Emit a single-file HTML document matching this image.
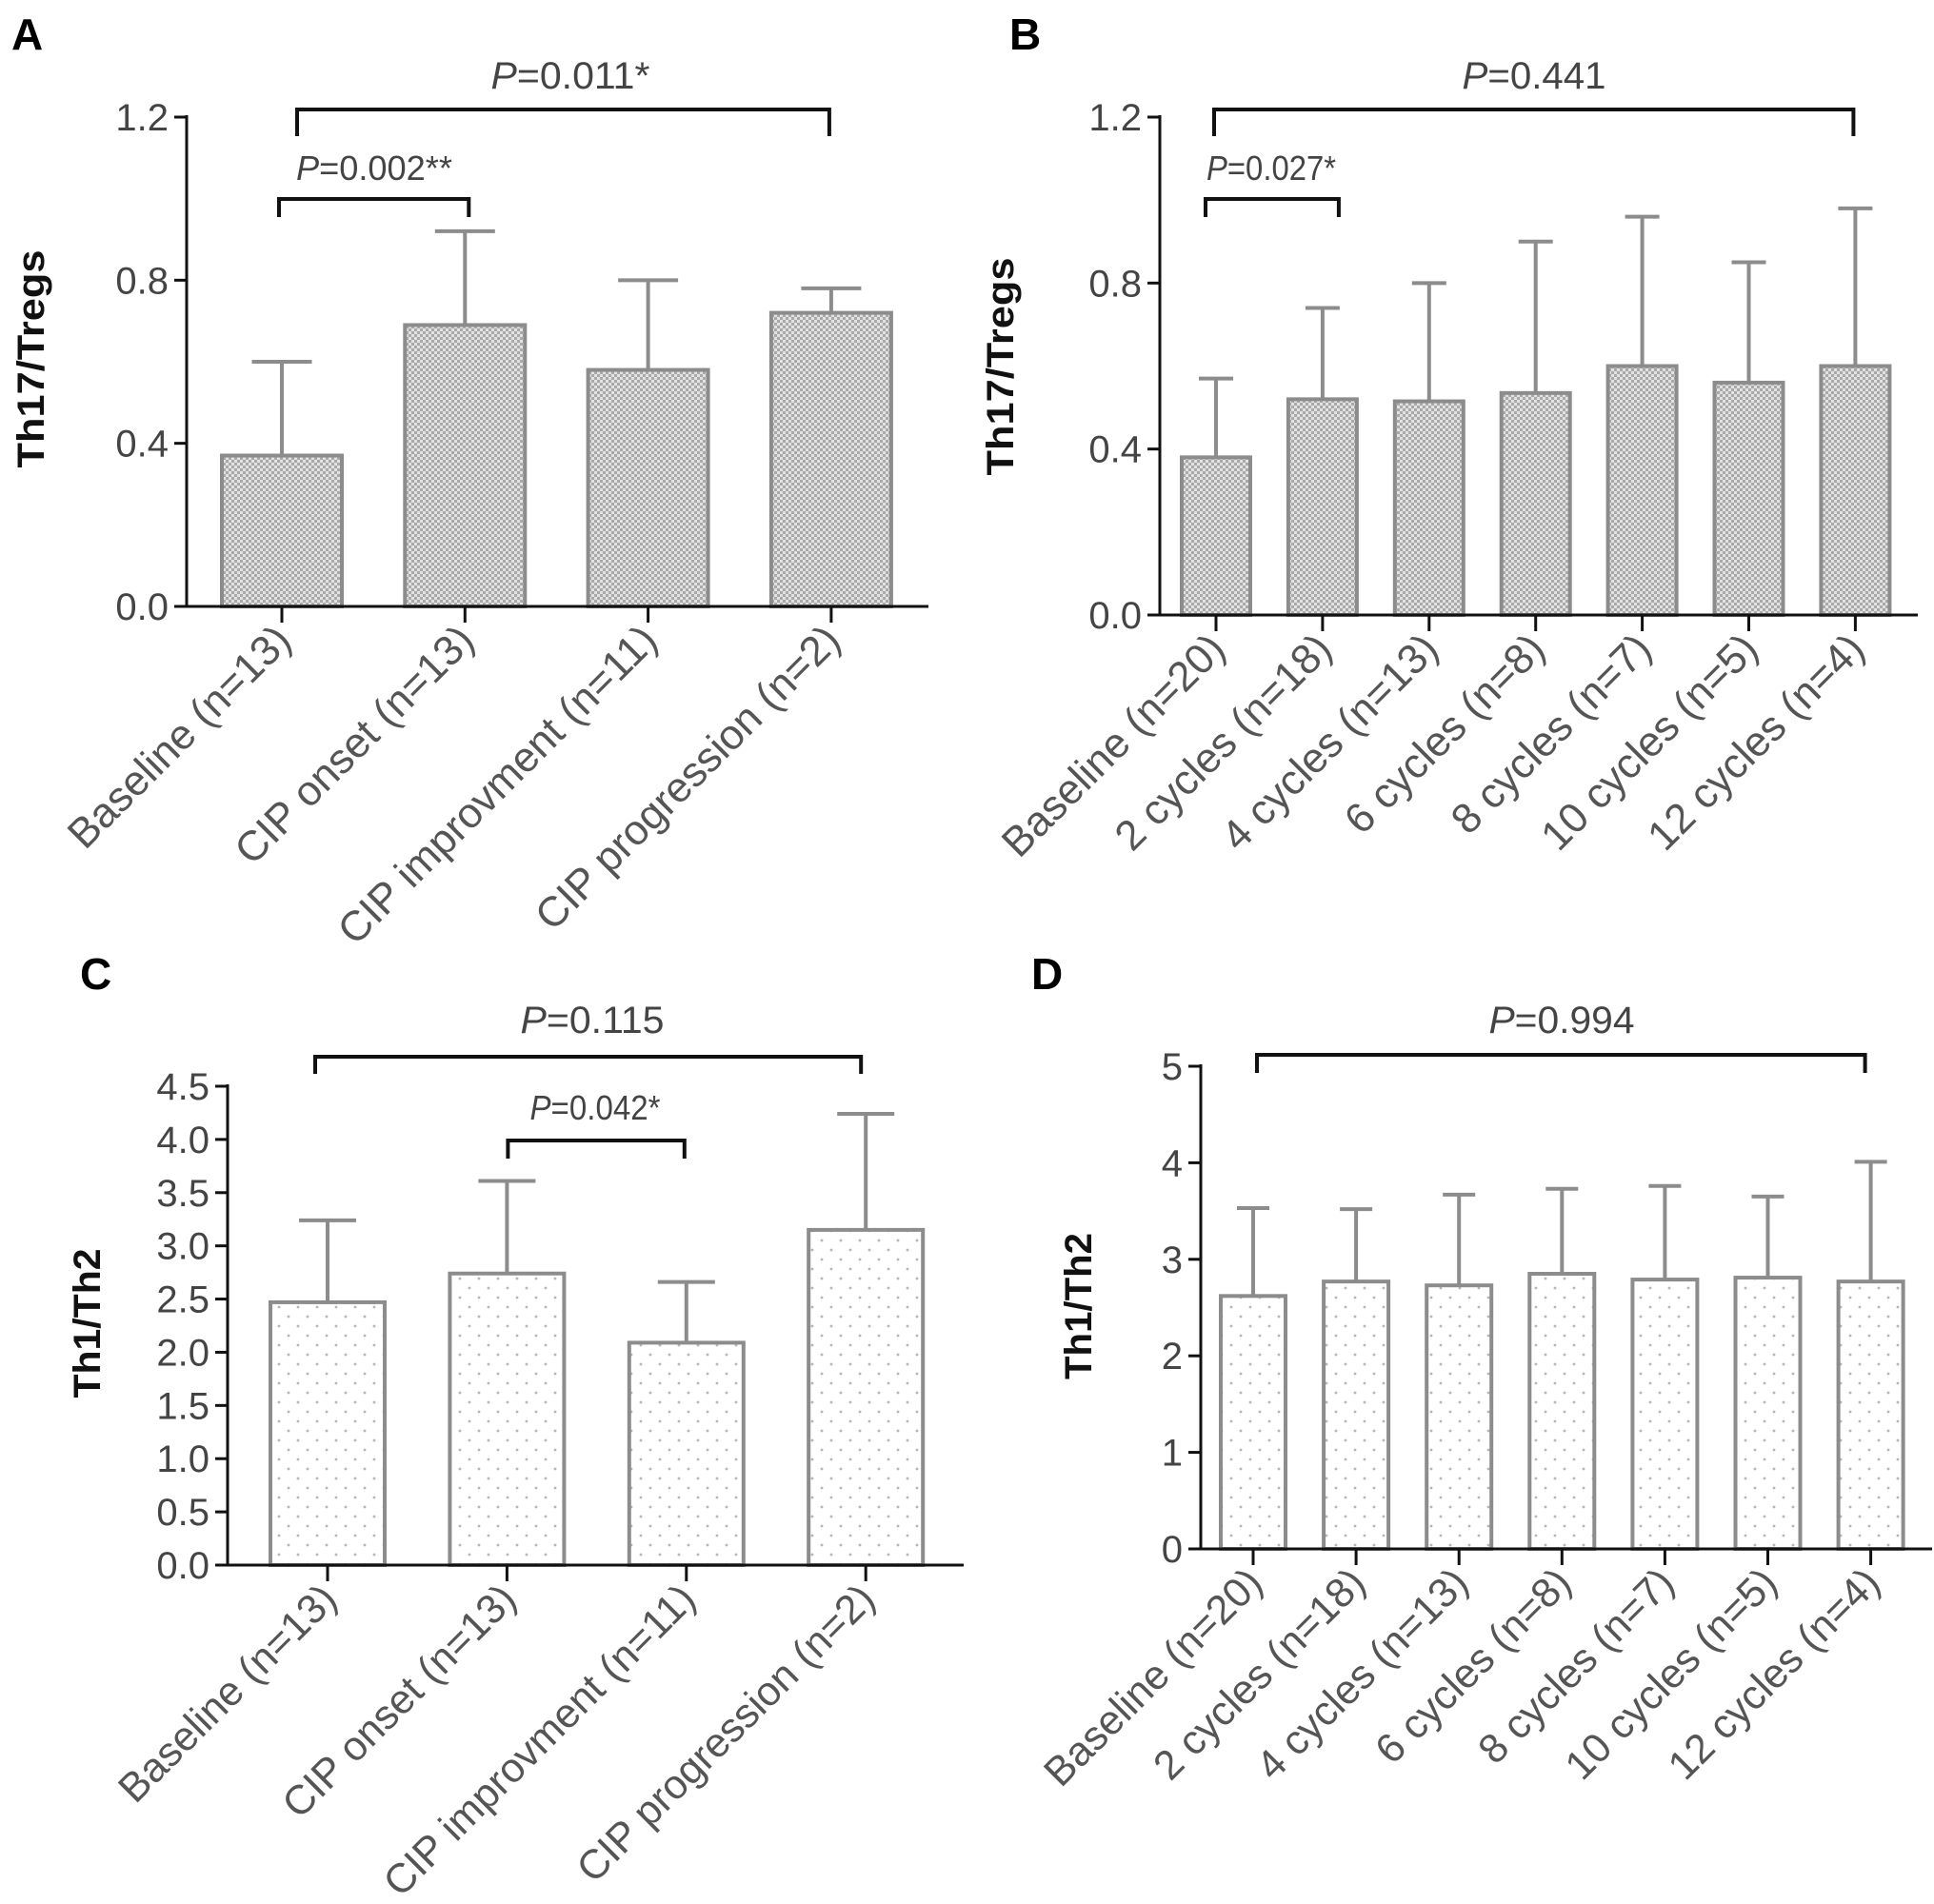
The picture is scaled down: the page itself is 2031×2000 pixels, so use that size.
<!DOCTYPE html>
<html><head><meta charset="utf-8"><style>
html,body{margin:0;padding:0;background:#fff;}
svg{display:block;font-family:"Liberation Sans",Arial,sans-serif;}
</style></head><body>
<svg id="fig" width="2031" height="2000" viewBox="0 0 2031 2000" xmlns="http://www.w3.org/2000/svg">
<defs>
<pattern id="checker" width="6" height="6" patternUnits="userSpaceOnUse">
<rect width="6" height="6" fill="#e2e2e2"/><rect width="3" height="3" fill="#a9a9a9"/><rect x="3" y="3" width="3" height="3" fill="#a9a9a9"/>
</pattern>
<pattern id="dots" width="20" height="20" patternUnits="userSpaceOnUse">
<rect width="20" height="20" fill="#fff"/><circle cx="3" cy="3" r="1.4" fill="#b5b5b5"/><circle cx="13" cy="13" r="1.4" fill="#b5b5b5"/>
</pattern>
</defs>
</svg>
<script>
// Panel A data
const catsA = ["Baseline (n=13)","CIP onset (n=13)","CIP improvment (n=11)","CIP progression (n=2)"];
const meanA = [0.37,0.69,0.58,0.72];
const errA = [0.60,0.92,0.80,0.78];
const ticksA = ["0.0","0.4","0.8","1.2"];
// Panel B data
const catsB = ["Baseline (n=20)","2 cycles (n=18)","4 cycles (n=13)","6 cycles (n=8)","8 cycles (n=7)","10 cycles (n=5)","12 cycles (n=4)"];
const meanB = [0.38,0.52,0.515,0.535,0.60,0.56,0.60];
const errB = [0.57,0.74,0.80,0.90,0.96,0.85,0.98];
const ticksB = ["0.0","0.4","0.8","1.2"];
// Panel C data
const catsC = ["Baseline (n=13)","CIP onset (n=13)","CIP improvment (n=11)","CIP progression (n=2)"];
const meanC = [2.47,2.74,2.09,3.15];
const errC = [3.24,3.61,2.66,4.24];
const ticksC = ["0.0","0.5","1.0","1.5","2.0","2.5","3.0","3.5","4.0","4.5"];
// Panel D data
const catsD = ["Baseline (n=20)","2 cycles (n=18)","4 cycles (n=13)","6 cycles (n=8)","8 cycles (n=7)","10 cycles (n=5)","12 cycles (n=4)"];
const meanD = [2.62,2.77,2.73,2.85,2.79,2.81,2.77];
const errD = [3.53,3.52,3.67,3.73,3.76,3.65,4.01];
const ticksD = ["0","1","2","3","4","5"];

const NS="http://www.w3.org/2000/svg";
const svg=document.getElementById('fig');
function mk(tag,attrs,parent){const e=document.createElementNS(NS,tag);for(const k in attrs)e.setAttribute(k,attrs[k]);(parent||svg).appendChild(e);return e;}

function panel(o){
  const g=mk('g',{});
  
  
  const tmax=parseFloat(o.ticks[o.ticks.length-1]);
  const y=v=>o.y0-(v/tmax)*(o.y0-o.yTop);
  const x=i=>o.x0c+i*o.step;
  const L=mk('text',{x:o.lx,y:o.ly,'font-size':46,'font-weight':'bold',fill:'#000'},g);
  L.textContent=o.id.toUpperCase();
  
  
  o.cats.forEach((c,i)=>{
    const cx=x(i);
    const e=mk('line',{x1:cx,x2:cx,y1:y(o.mean[i]),y2:y(o.err[i]),stroke:'#8c8c8c','stroke-width':4},g);
    
    
    const cap=mk('line',{x1:cx-o.hw/2,x2:cx+o.hw/2,y1:y(o.err[i]),y2:y(o.err[i]),stroke:'#8c8c8c','stroke-width':4},g);
    
    
    const b=mk('rect',{x:cx-o.hw,y:y(o.mean[i]),width:o.hw*2,height:o.y0-y(o.mean[i]),fill:o.fill,stroke:'#8c8c8c','stroke-width':4},g);
    
    
    const t=mk('line',{x1:cx,x2:cx,y1:o.y0,y2:o.y0+17,stroke:'#111','stroke-width':3},g);
    
    
    const ax=cx+12, ay=o.y0+38;
    const lab=mk('text',{x:ax,y:ay,'font-size':o.xfs,fill:'#555','text-anchor':'end','transform':`rotate(-45 ${ax} ${ay})`},g);
    lab.textContent=c;
    
    
  });
  const ya=mk('line',{x1:o.ax,x2:o.ax,y1:o.yTop-2,y2:o.y0+1,stroke:'#111','stroke-width':3},g);
  
  
  const xa=mk('line',{x1:o.ax,x2:o.xEnd,y1:o.y0,y2:o.y0,stroke:'#111','stroke-width':3},g);
  
  
  o.ticks.forEach(t=>{
    const v=parseFloat(t), ty=y(v);
    const tk=mk('line',{x1:o.ax-13,x2:o.ax,y1:ty,y2:ty,stroke:'#111','stroke-width':3},g);
    
    
    const tl=mk('text',{x:o.ax-19,y:ty+14,'font-size':40,fill:'#444','text-anchor':'end'},g);
    tl.textContent=t;
    
    
  });
  const yt=mk('text',{x:0,y:0,'font-size':40,'font-weight':'bold',fill:'#111','text-anchor':'middle',textLength:o.ytl,lengthAdjust:'spacingAndGlyphs',transform:`translate(${o.ytx} ${o.yty}) rotate(-90)`},g);
  yt.textContent=o.ytitle;
  
  
  o.brackets.forEach((br,k)=>{
    const p=mk('path',{d:`M${x(br.a)-br.da},${br.yl} V${br.yb} H${x(br.b)+br.db} V${br.yl}`,fill:'none',stroke:'#111','stroke-width':4},g);
    
    
    const t=mk('text',{x:br.tx,y:br.ty,'font-size':br.fs,fill:'#444','text-anchor':'middle',textLength:br.tl,lengthAdjust:'spacingAndGlyphs'},g);
    const it=mk('tspan',{'font-style':'italic'},t); it.textContent='P';
    const rest=mk('tspan',{},t); rest.textContent=br.text;
    
    
  });
}

panel({id:'a',cats:catsA,mean:meanA,err:errA,ticks:ticksA,fill:'url(#checker)',
  ax:196,xEnd:975,y0:637,yTop:123,x0c:296,step:192.3,hw:63,xfs:44,
  lx:12,ly:52,ytitle:'Th17/Tregs',ytx:46,yty:377,ytl:229,
  brackets:[
    {a:0,b:3,da:-16,db:-2,yb:115,yl:143,tx:599,ty:93,fs:40,text:'=0.011*',tl:167},
    {a:0,b:1,da:3,db:4,yb:209,yl:228,tx:393,ty:189,fs:36,text:'=0.002**',tl:164}
  ]});
panel({id:'b',cats:catsB,mean:meanB,err:errB,ticks:ticksB,fill:'url(#checker)',
  ax:1218,xEnd:2014,y0:646,yTop:123,x0c:1277,step:111.9,hw:36,xfs:44,
  lx:1060,ly:52,ytitle:'Th17/Tregs',ytx:1064,yty:385,ytl:229,
  brackets:[
    {a:0,b:6,da:2,db:-2,yb:115,yl:143,tx:1611,ty:93,fs:40,text:'=0.441',tl:151},
    {a:0,b:1,da:11,db:17,yb:209,yl:228,tx:1335,ty:189,fs:36,text:'=0.027*',tl:136}
  ]});
panel({id:'c',cats:catsC,mean:meanC,err:errC,ticks:ticksC,fill:'url(#dots)',
  ax:239,xEnd:1012,y0:1644,yTop:1141,x0c:344,step:188.4,hw:60,xfs:43,
  lx:84,ly:1039,ytitle:'Th1/Th2',ytx:105,yty:1390,ytl:157,
  brackets:[
    {a:0,b:3,da:13,db:-5,yb:1110,yl:1128,tx:622,ty:1085,fs:40,text:'=0.115',tl:151},
    {a:1,b:2,da:-1,db:-2,yb:1198,yl:1217,tx:625,ty:1176,fs:36,text:'=0.042*',tl:137}
  ]});
panel({id:'d',cats:catsD,mean:meanD,err:errD,ticks:ticksD,fill:'url(#dots)',
  ax:1261,xEnd:2029,y0:1627,yTop:1120,x0c:1316,step:108.1,hw:34,xfs:43,
  lx:1083,ly:1039,ytitle:'Th1/Th2',ytx:1146,yty:1372,ytl:154,
  brackets:[
    {a:0,b:6,da:-4,db:-6,yb:1108,yl:1127,tx:1640,ty:1085,fs:40,text:'=0.994',tl:153}
  ]});
</script>
</body></html>
